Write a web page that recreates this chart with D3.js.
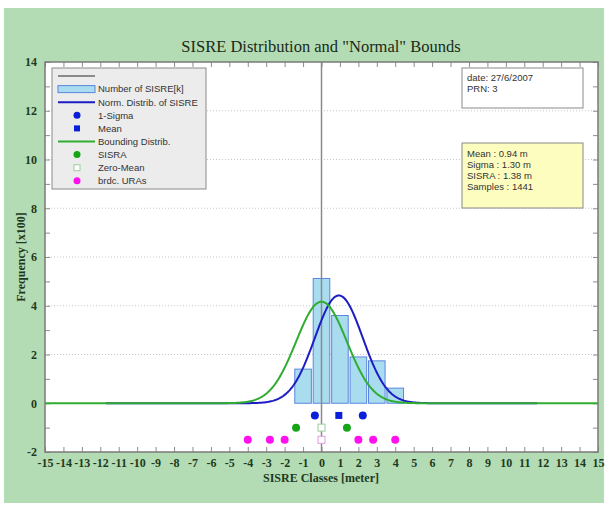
<!DOCTYPE html>
<html>
<head>
<meta charset="utf-8">
<script src="https://cdn.jsdelivr.net/npm/d3@7"></script>
<style>
  html, body { margin: 0; padding: 0; background: #ffffff; }
  svg { display: block; }
</style>
</head>
<body>
<script>
// SISRE histogram (x100 samples per 1 m class) with fitted and bounding normal curves
const classCenters = [-1, 0, 1, 2, 3, 4];
const classCounts  = [1.40, 5.12, 3.60, 1.90, 1.74, 0.62];

// Statistics shown in the info box
const sisreMean  = 0.94;
const sisreSigma = 1.30;
const sisraValue = 1.38;
const sampleCount = 1441;

// Broadcast URA values (m)
const uraValues = [-4.0, -2.8, -2.0, 2.0, 2.8, 4.0];

const xTickValues = d3.range(-15, 16, 1);
const yTickLabels = [-2, 0, 2, 4, 6, 8, 10, 12, 14];
const yMinorTicks = d3.range(-2, 15, 1);
const gridLevels  = [2, 4, 6, 8, 10, 12];

const legendItems = [
  { kind: "line",   color: "#8a8a8a", label: "" },
  { kind: "rect",   color: "#a9dcef", label: "Number of SISRE[k]" },
  { kind: "line",   color: "#1d1dc4", label: "Norm. Distrib. of SISRE" },
  { kind: "circle", color: "#0a1fd8", label: "1-Sigma" },
  { kind: "square", color: "#0a1fd8", label: "Mean" },
  { kind: "line",   color: "#30ad30", label: "Bounding Distrib." },
  { kind: "circle", color: "#16a516", label: "SISRA" },
  { kind: "open",   color: "#9ccc9c", label: "Zero-Mean" },
  { kind: "circle", color: "#ff10ef", label: "brdc. URAs" }
];

const infoLines1 = ["date: 27/6/2007", "PRN: 3"];
const infoLines2 = ["Mean : 0.94 m", "Sigma : 1.30 m", "SISRA : 1.38 m", "Samples : 1441"];

const W = 606, H = 505;
const plot = { left: 45, top: 62, right: 598, bottom: 452 };

const svg = d3.select("body").append("svg").attr("width", W).attr("height", H);

// frame background
svg.append("rect").attr("x", 4).attr("y", 8).attr("width", 600).attr("height", 495)
  .attr("fill", "#b4dcb4");

const x = d3.scaleLinear().domain([-15, 15]).range([plot.left, plot.right]);
const y = d3.scaleLinear().domain([-2, 14]).range([plot.bottom, plot.top]);

svg.append("rect").attr("x", plot.left).attr("y", plot.top)
  .attr("width", plot.right - plot.left).attr("height", plot.bottom - plot.top)
  .attr("fill", "#ffffff");

// dotted horizontal grid
svg.append("g").selectAll("line").data(gridLevels).join("line")
  .attr("x1", plot.left).attr("x2", plot.right)
  .attr("y1", d => y(d)).attr("y2", d => y(d))
  .attr("stroke", "#c8c8c8").attr("stroke-width", 1).attr("stroke-dasharray", "1,2");

const serif = "'Liberation Serif', 'Times New Roman', serif";
const sans = "'Liberation Sans', Arial, sans-serif";
const labelColor = "#1e3a1e";
const plainNum = d => String(d);   // hyphen-minus, as on the printed axes

// axes: ticks drawn inward on all four sides
const axisBottom = d3.axisBottom(x).tickValues(xTickValues).tickSizeInner(-5).tickSizeOuter(0).tickPadding(8)
  .tickFormat(plainNum);
const gB = svg.append("g").attr("transform", `translate(0,${plot.bottom})`).call(axisBottom);
const axisTop = d3.axisTop(x).tickValues(xTickValues).tickSizeInner(-5).tickSizeOuter(0).tickFormat("");
const gT = svg.append("g").attr("transform", `translate(0,${plot.top})`).call(axisTop);
const axisLeft = d3.axisLeft(y).tickValues(yMinorTicks).tickSizeInner(-5).tickSizeOuter(0).tickPadding(8)
  .tickFormat(d => yTickLabels.includes(d) ? plainNum(d) : "");
const gL = svg.append("g").attr("transform", `translate(${plot.left},0)`).call(axisLeft);
const axisRight = d3.axisRight(y).tickValues(yMinorTicks).tickSizeInner(-5).tickSizeOuter(0).tickFormat("");
const gR = svg.append("g").attr("transform", `translate(${plot.right},0)`).call(axisRight);

[gB, gT, gL, gR].forEach(g => {
  g.select(".domain").remove();
  g.selectAll(".tick line").attr("stroke", "#8c8c8c");
  g.selectAll(".tick text").attr("font-family", serif).attr("font-size", 12)
    .attr("font-weight", "bold").attr("fill", labelColor);
});
gB.selectAll(".tick text").attr("dy", "0.55em");
gL.selectAll(".tick text").attr("dy", "0.32em");

// histogram bars
const barW = 0.9;
svg.append("g").selectAll("rect").data(classCenters).join("rect")
  .attr("x", (d) => x(d - barW / 2))
  .attr("width", (d) => x(d + barW / 2) - x(d - barW / 2))
  .attr("y", (d, i) => y(classCounts[i]))
  .attr("height", (d, i) => y(0) - y(classCounts[i]))
  .attr("fill", "#a9dcef").attr("stroke", "#5b86de").attr("stroke-width", 1);

// vertical zero line
svg.append("line").attr("x1", x(0)).attr("x2", x(0)).attr("y1", plot.top).attr("y2", plot.bottom)
  .attr("stroke", "#8a8a8a").attr("stroke-width", 1.5);

// normal densities scaled to the sample count (1 m classes, x100)
const scaleN = sampleCount / 100;
const normal = (m, s) => v => scaleN / (s * Math.sqrt(2 * Math.PI)) * Math.exp(-0.5 * ((v - m) / s) ** 2);
const fitted = normal(sisreMean, sisreSigma);
const bounding = normal(0, sisraValue);

const line = d3.line().x(d => x(d[0])).y(d => y(d[1]));
const gridFit = d3.range(-11.7, 11.71, 0.05);
const gridBound = d3.range(-15, 15.001, 0.05);

svg.append("path").datum(gridFit.map(v => [v, fitted(v)]))
  .attr("d", line).attr("fill", "none").attr("stroke", "#1d1dc4").attr("stroke-width", 2);
svg.append("path").datum(gridBound.map(v => [v, bounding(v)]))
  .attr("d", line).attr("fill", "none").attr("stroke", "#30ad30").attr("stroke-width", 2);

// marker rows
const mk = svg.append("g");
[sisreMean - sisreSigma, sisreMean + sisreSigma].forEach(v =>
  mk.append("circle").attr("cx", x(v)).attr("cy", y(-0.5)).attr("r", 4).attr("fill", "#0a1fd8"));
mk.append("rect").attr("x", x(sisreMean) - 3.5).attr("y", y(-0.5) - 3.5).attr("width", 7).attr("height", 7)
  .attr("fill", "#0a1fd8");
[-sisraValue, sisraValue].forEach(v =>
  mk.append("circle").attr("cx", x(v)).attr("cy", y(-1)).attr("r", 4).attr("fill", "#16a516"));
mk.append("rect").attr("x", x(0) - 3.5).attr("y", y(-1) - 3.5).attr("width", 7).attr("height", 7)
  .attr("fill", "#ffffff").attr("stroke", "#9ccc9c").attr("stroke-width", 1);
uraValues.forEach(v =>
  mk.append("circle").attr("cx", x(v)).attr("cy", y(-1.5)).attr("r", 4).attr("fill", "#ff10ef"));
mk.append("rect").attr("x", x(0) - 3.5).attr("y", y(-1.5) - 3.5).attr("width", 7).attr("height", 7)
  .attr("fill", "#ffffff").attr("stroke", "#e59be5").attr("stroke-width", 1);

// plot frame
svg.append("rect").attr("x", plot.left).attr("y", plot.top)
  .attr("width", plot.right - plot.left).attr("height", plot.bottom - plot.top)
  .attr("fill", "none").attr("stroke", "#7a7a7a").attr("stroke-width", 1.5);

// legend
const lg = svg.append("g");
lg.append("rect").attr("x", 52).attr("y", 68).attr("width", 154).attr("height", 121)
  .attr("fill", "#ececec").attr("stroke", "#8a8a8a").attr("stroke-width", 1);
legendItems.forEach((it, i) => {
  const cy = 76 + i * 13.1;
  if (it.kind === "line") {
    lg.append("line").attr("x1", 58).attr("x2", 95).attr("y1", cy).attr("y2", cy)
      .attr("stroke", it.color).attr("stroke-width", 2);
  } else if (it.kind === "rect") {
    lg.append("rect").attr("x", 58).attr("y", cy - 3.5).attr("width", 37).attr("height", 7)
      .attr("fill", it.color).attr("stroke", "#5b86de").attr("stroke-width", 1);
  } else if (it.kind === "circle") {
    lg.append("circle").attr("cx", 77).attr("cy", cy).attr("r", 3.5).attr("fill", it.color);
  } else if (it.kind === "square") {
    lg.append("rect").attr("x", 74).attr("y", cy - 3).attr("width", 6).attr("height", 6).attr("fill", it.color);
  } else if (it.kind === "open") {
    lg.append("rect").attr("x", 74).attr("y", cy - 3).attr("width", 6).attr("height", 6)
      .attr("fill", "#ffffff").attr("stroke", it.color).attr("stroke-width", 1);
  }
  if (it.label) {
    lg.append("text").attr("x", 98).attr("y", cy).attr("dy", "0.35em")
      .attr("font-family", sans).attr("font-size", 9.5).attr("fill", "#333333").text(it.label);
  }
});

// info boxes
const ib = svg.append("g");
ib.append("rect").attr("x", 462).attr("y", 68).attr("width", 121).attr("height", 40)
  .attr("fill", "#ffffff").attr("stroke", "#8a8a8a").attr("stroke-width", 1);
infoLines1.forEach((t, i) =>
  ib.append("text").attr("x", 467).attr("y", 78 + i * 11).attr("dy", "0.35em")
    .attr("font-family", sans).attr("font-size", 9.5).attr("fill", "#333333").text(t));
ib.append("rect").attr("x", 462).attr("y", 143).attr("width", 121).attr("height", 65)
  .attr("fill", "#fdfdbf").attr("stroke", "#8a8a8a").attr("stroke-width", 1);
infoLines2.forEach((t, i) =>
  ib.append("text").attr("x", 467).attr("y", 153.5 + i * 11).attr("dy", "0.35em")
    .attr("font-family", sans).attr("font-size", 9.5).attr("fill", "#333333").text(t));

// titles
svg.append("text").attr("x", 321).attr("y", 52).attr("text-anchor", "middle")
  .attr("font-family", serif).attr("font-size", 16.5).attr("fill", "#1a2a1a")
  .text('SISRE Distribution and "Normal" Bounds');
svg.append("text").attr("x", 321).attr("y", 482).attr("text-anchor", "middle")
  .attr("font-family", serif).attr("font-size", 12).attr("font-weight", "bold").attr("fill", labelColor)
  .text("SISRE Classes [meter]");
svg.append("text").attr("transform", `translate(21,${(plot.top + plot.bottom) / 2}) rotate(-90)`)
  .attr("text-anchor", "middle").attr("dy", "0.35em")
  .attr("font-family", serif).attr("font-size", 12).attr("font-weight", "bold").attr("fill", labelColor)
  .text("Frequency [x100]");
</script>
</body>
</html>
